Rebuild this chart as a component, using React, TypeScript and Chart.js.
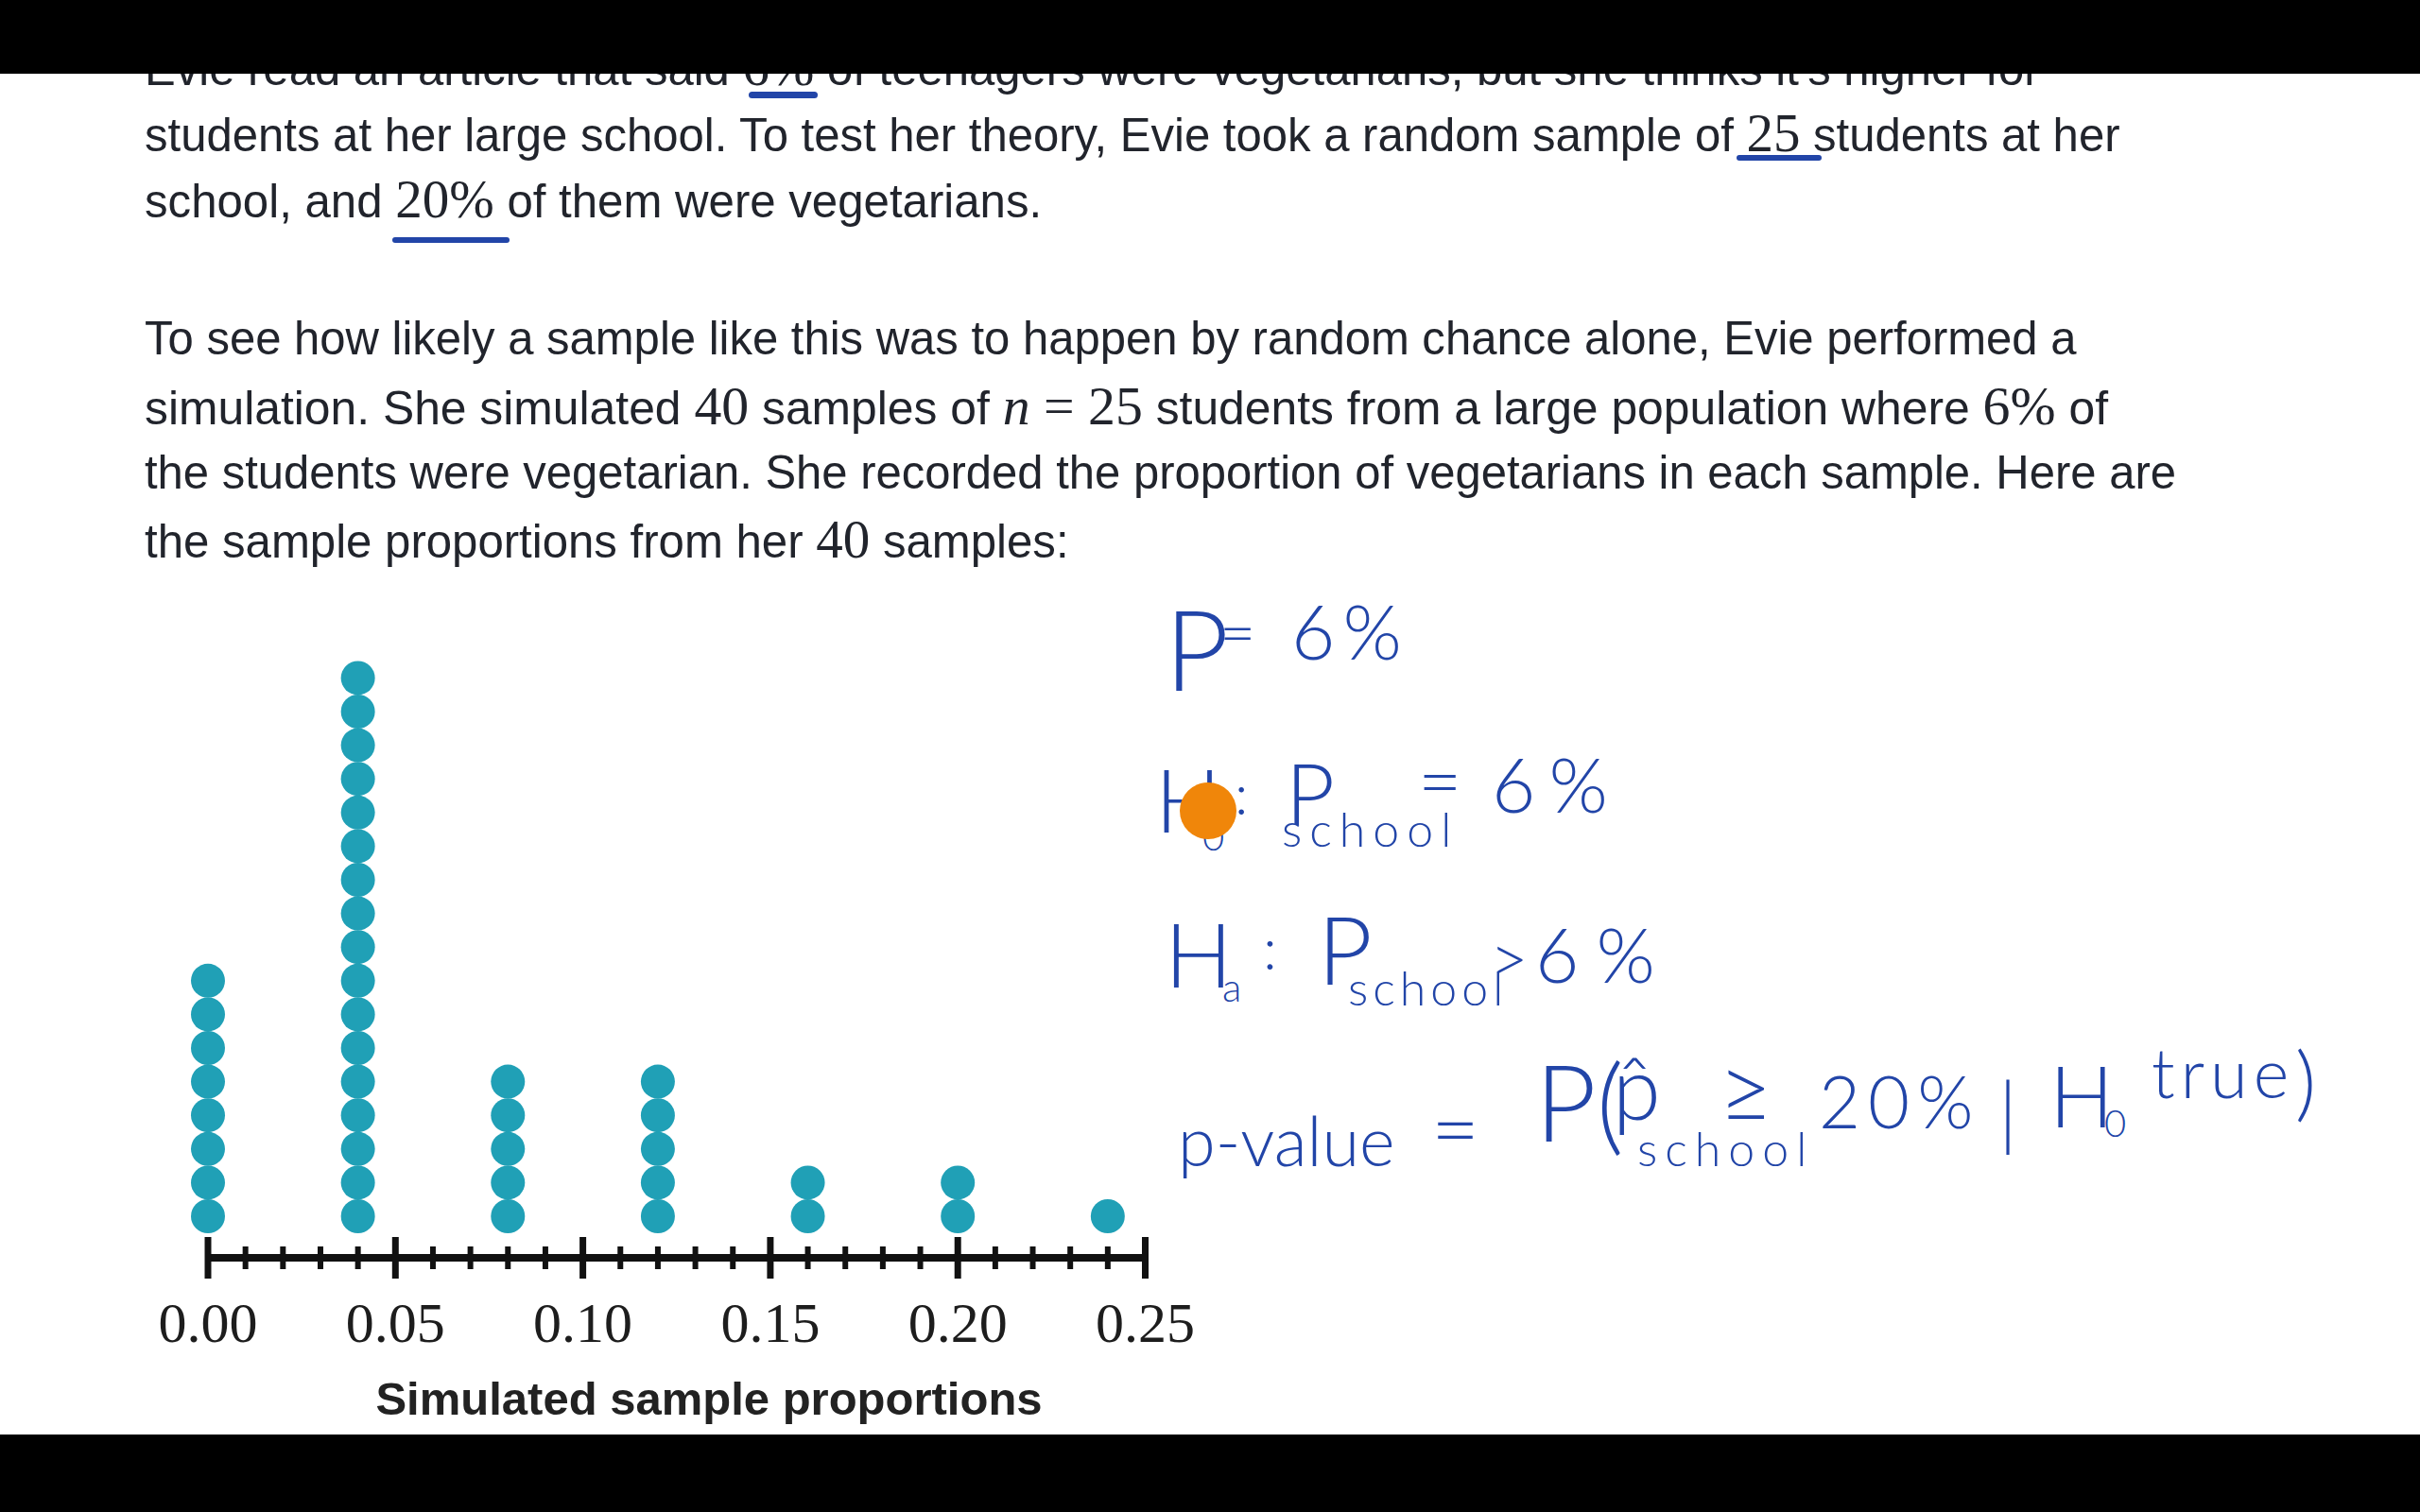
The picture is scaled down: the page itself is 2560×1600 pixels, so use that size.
import React, { useEffect, useLayoutEffect, useRef } from "react";
import { Chart, registerables } from "chart.js";

Chart.register(...registerables);

// ---- chart data ----
const proportions = [0, 0.04, 0.08, 0.12, 0.16, 0.2, 0.24];
const counts = [8, 17, 5, 5, 2, 2, 1];
const tickValues = [0, 0.05, 0.1, 0.15, 0.2, 0.25];
const minorStep = 0.01;
const axisTitle = "Simulated sample proportions";
const dotColor = "#20A0B6";

// ---- page text ----
type Seg = { t: string; m?: boolean; i?: boolean };
const bodyLines: { segs: Seg[]; base: number; w: number }[] = [
  {
    base: 88,
    w: 2005,
    segs: [
      { t: "Evie read an article that said " },
      { t: "6%", m: true },
      { t: " of teenagers were vegetarians, but she thinks it's higher for" },
    ],
  },
  {
    base: 158,
    w: 2090,
    segs: [
      { t: "students at her large school. To test her theory, Evie took a random sample of " },
      { t: "25", m: true },
      { t: " students at her" },
    ],
  },
  {
    base: 228,
    w: 949,
    segs: [{ t: "school, and " }, { t: "20%", m: true }, { t: " of them were vegetarians." }],
  },
  {
    base: 375,
    w: 2043,
    segs: [{ t: "To see how likely a sample like this was to happen by random chance alone, Evie performed a" }],
  },
  {
    base: 447,
    w: 2077,
    segs: [
      { t: "simulation. She simulated " },
      { t: "40", m: true },
      { t: " samples of " },
      { t: "n", m: true, i: true },
      { t: " = 25", m: true },
      { t: " students from a large population where " },
      { t: "6%", m: true },
      { t: " of" },
    ],
  },
  {
    base: 517,
    w: 2149,
    segs: [{ t: "the students were vegetarian. She recorded the proportion of vegetarians in each sample. Here are" }],
  },
  {
    base: 588,
    w: 978,
    segs: [{ t: "the sample proportions from her " }, { t: "40", m: true }, { t: " samples:" }],
  },
];

// handwritten notes: x, baseline, size, text, letter spacing
const notes: { x: number; b: number; s: number; t: string; ls?: number }[] = [
  { x: 1232, b: 732, s: 118, t: "P" },
  { x: 1290, b: 694, s: 66, t: "=" },
  { x: 1366, b: 698, s: 80, t: "6%", ls: 8 },
  { x: 1222, b: 882, s: 92, t: "H" },
  { x: 1272, b: 900, s: 40, t: "0" },
  { x: 1306, b: 862, s: 60, t: ":" },
  { x: 1360, b: 873, s: 90, t: "P" },
  { x: 1356, b: 896, s: 50, t: "school", ls: 8 },
  { x: 1500, b: 856, s: 80, t: "=" },
  { x: 1578, b: 860, s: 80, t: "6%", ls: 14 },
  { x: 1232, b: 1045, s: 95, t: "H" },
  { x: 1293, b: 1060, s: 42, t: "a" },
  { x: 1336, b: 1026, s: 62, t: ":" },
  { x: 1394, b: 1042, s: 100, t: "P" },
  { x: 1426, b: 1064, s: 50, t: "school", ls: 5 },
  { x: 1576, b: 1040, s: 70, t: ">" },
  { x: 1624, b: 1040, s: 80, t: "6%", ls: 18 },
  { x: 1246, b: 1234, s: 72, t: "p-value" },
  { x: 1514, b: 1226, s: 88, t: "=" },
  { x: 1624, b: 1208, s: 112, t: "P(" },
  { x: 1706, b: 1186, s: 92, t: "p̂" },
  { x: 1732, b: 1234, s: 50, t: "school", ls: 8 },
  { x: 1818, b: 1188, s: 100, t: "≥" },
  { x: 1924, b: 1194, s: 76, t: "20%", ls: 8 },
  { x: 2114, b: 1208, s: 84, t: "|" },
  { x: 2168, b: 1193, s: 90, t: "H" },
  { x: 2226, b: 1203, s: 40, t: "0" },
  { x: 2276, b: 1162, s: 72, t: "true", ls: 6 },
  { x: 2428, b: 1176, s: 86, t: ")" },
];

const inkBlue = "#2245A8";

function DotPlot() {
  const ref = useRef<HTMLCanvasElement>(null);
  useEffect(() => {
    if (!ref.current) return;
    const points: { x: number; y: number }[] = [];
    proportions.forEach((p, i) => {
      for (let k = 1; k <= counts[i]; k++) points.push({ x: p, y: k });
    });
    const numberLine = {
      id: "numberLine",
      afterDraw(chart: any) {
        const { ctx, chartArea } = chart;
        const xs = chart.scales.x;
        const y0 = chartArea.bottom - 1;
        ctx.save();
        ctx.strokeStyle = "#111";
        ctx.lineCap = "butt";
        ctx.lineWidth = 8;
        ctx.beginPath();
        ctx.moveTo(xs.getPixelForValue(xs.min), y0);
        ctx.lineTo(xs.getPixelForValue(xs.max), y0);
        ctx.stroke();
        const n = Math.round((xs.max - xs.min) / minorStep);
        for (let i = 0; i <= n; i++) {
          const v = xs.min + i * minorStep;
          const px = xs.getPixelForValue(v);
          const major = tickValues.some((t) => Math.abs(t - v) < 1e-9);
          ctx.lineWidth = major ? 7 : 6;
          ctx.beginPath();
          ctx.moveTo(px, y0 - (major ? 22 : 12));
          ctx.lineTo(px, y0 + (major ? 22 : 12));
          ctx.stroke();
        }
        // axis title
        ctx.fillStyle = "#222";
        ctx.font = "bold 49px 'Liberation Sans', Arial, sans-serif";
        ctx.textAlign = "center";
        ctx.textBaseline = "middle";
        ctx.fillText(axisTitle, 750, xs.bottom - 35);
        ctx.restore();
      },
    };
    const chart = new Chart(ref.current, {
      type: "scatter",
      data: {
        datasets: [
          {
            data: points,
            pointRadius: 18,
            pointHoverRadius: 18,
            backgroundColor: dotColor,
            borderWidth: 0,
            clip: false,
          } as any,
        ],
      },
      options: {
        animation: false,
        responsive: false,
        events: [],
        layout: { padding: { left: 220, right: 76, top: 10.6, bottom: 0 }, autoPadding: false },
        plugins: { legend: { display: false }, tooltip: { enabled: false } },
        scales: {
          x: {
            type: "linear",
            position: "bottom",
            min: 0,
            max: 0.25,
            afterBuildTicks: (s: any) => {
              s.ticks = tickValues.map((v) => ({ value: v }));
            },
            afterFit: (s: any) => {
              s.height = 186;
            },
            grid: { display: false, drawTicks: false },
            border: { display: false },
            ticks: {
              autoSkip: false,
              maxRotation: 0,
              padding: 36,
              color: "#1d1d1d",
              font: { family: "'Liberation Serif', 'DejaVu Serif', serif", size: 60 },
              callback: (v: any) => Number(v).toFixed(2),
            },
            title: { display: false, text: axisTitle },
          },
          y: { type: "linear", min: -0.264, max: 20, display: false },
        },
      } as any,
      plugins: [numberLine],
    });
    return () => chart.destroy();
  }, []);
  return (
    <canvas
      ref={ref}
      width={1300}
      height={918}
      style={{ position: "absolute", left: 0, top: 600, width: 1300, height: 918 }}
    />
  );
}

const BODY_F = 50;

export default function App() {
  const lineRefs = useRef<(HTMLSpanElement | null)[]>([]);
  useLayoutEffect(() => {
    bodyLines.forEach((l, i) => {
      const el = lineRefs.current[i];
      if (el && el.offsetWidth > 0) {
        el.style.transform = `scaleX(${l.w / el.offsetWidth})`;
      }
    });
  }, []);
  return (
    <div
      style={{
        position: "absolute",
        left: 0,
        top: 0,
        width: 2560,
        height: 1600,
        background: "#fff",
        overflow: "hidden",
      }}
    >
      {bodyLines.map((l, i) => (
        <div
          key={i}
          style={{
            position: "absolute",
            left: 153,
            top: l.base - 0.85 * BODY_F,
            whiteSpace: "nowrap",
            fontFamily: "'Liberation Sans', Arial, sans-serif",
            fontSize: BODY_F,
            lineHeight: `${BODY_F}px`,
            color: "#21242C",
          }}
        >
          <span
            ref={(el) => {
              lineRefs.current[i] = el;
            }}
            style={{ display: "inline-block", transformOrigin: "0 50%" }}
          >
            {l.segs.map((s, j) =>
              s.m ? (
                <span
                  key={j}
                  style={{
                    fontFamily: "'Liberation Serif', 'DejaVu Serif', serif",
                    fontSize: "1.16em",
                    fontStyle: s.i ? "italic" : "normal",
                  }}
                >
                  {s.t}
                </span>
              ) : (
                <span key={j}>{s.t}</span>
              )
            )}
          </span>
        </div>
      ))}

      {/* blue underlines */}
      <div style={{ position: "absolute", left: 792, top: 97, width: 73, height: 7, borderRadius: 4, background: inkBlue }} />
      <div style={{ position: "absolute", left: 1837, top: 164, width: 90, height: 6, borderRadius: 4, background: inkBlue }} />
      <div style={{ position: "absolute", left: 415, top: 251, width: 124, height: 6, borderRadius: 4, background: inkBlue }} />

      {notes.map((n, i) => (
        <div
          key={"n" + i}
          style={{
            position: "absolute",
            left: n.x,
            top: n.b - 0.887 * n.s,
            fontFamily: "Lato, 'Open Sans', sans-serif",
            fontWeight: 300,
            fontSize: n.s,
            lineHeight: `${n.s}px`,
            letterSpacing: n.ls ? n.ls : 0,
            color: inkBlue,
            whiteSpace: "nowrap",
          }}
        >
          {n.t}
        </div>
      ))}

      {/* cursor dot */}
      <div
        style={{
          position: "absolute",
          left: 1248,
          top: 828,
          width: 60,
          height: 60,
          borderRadius: "50%",
          background: "#F0860A",
        }}
      />

      <DotPlot />

      <div style={{ position: "absolute", left: 0, top: 0, width: 2560, height: 78, background: "#000" }} />
      <div style={{ position: "absolute", left: 0, top: 1518, width: 2560, height: 82, background: "#000" }} />
    </div>
  );
}
